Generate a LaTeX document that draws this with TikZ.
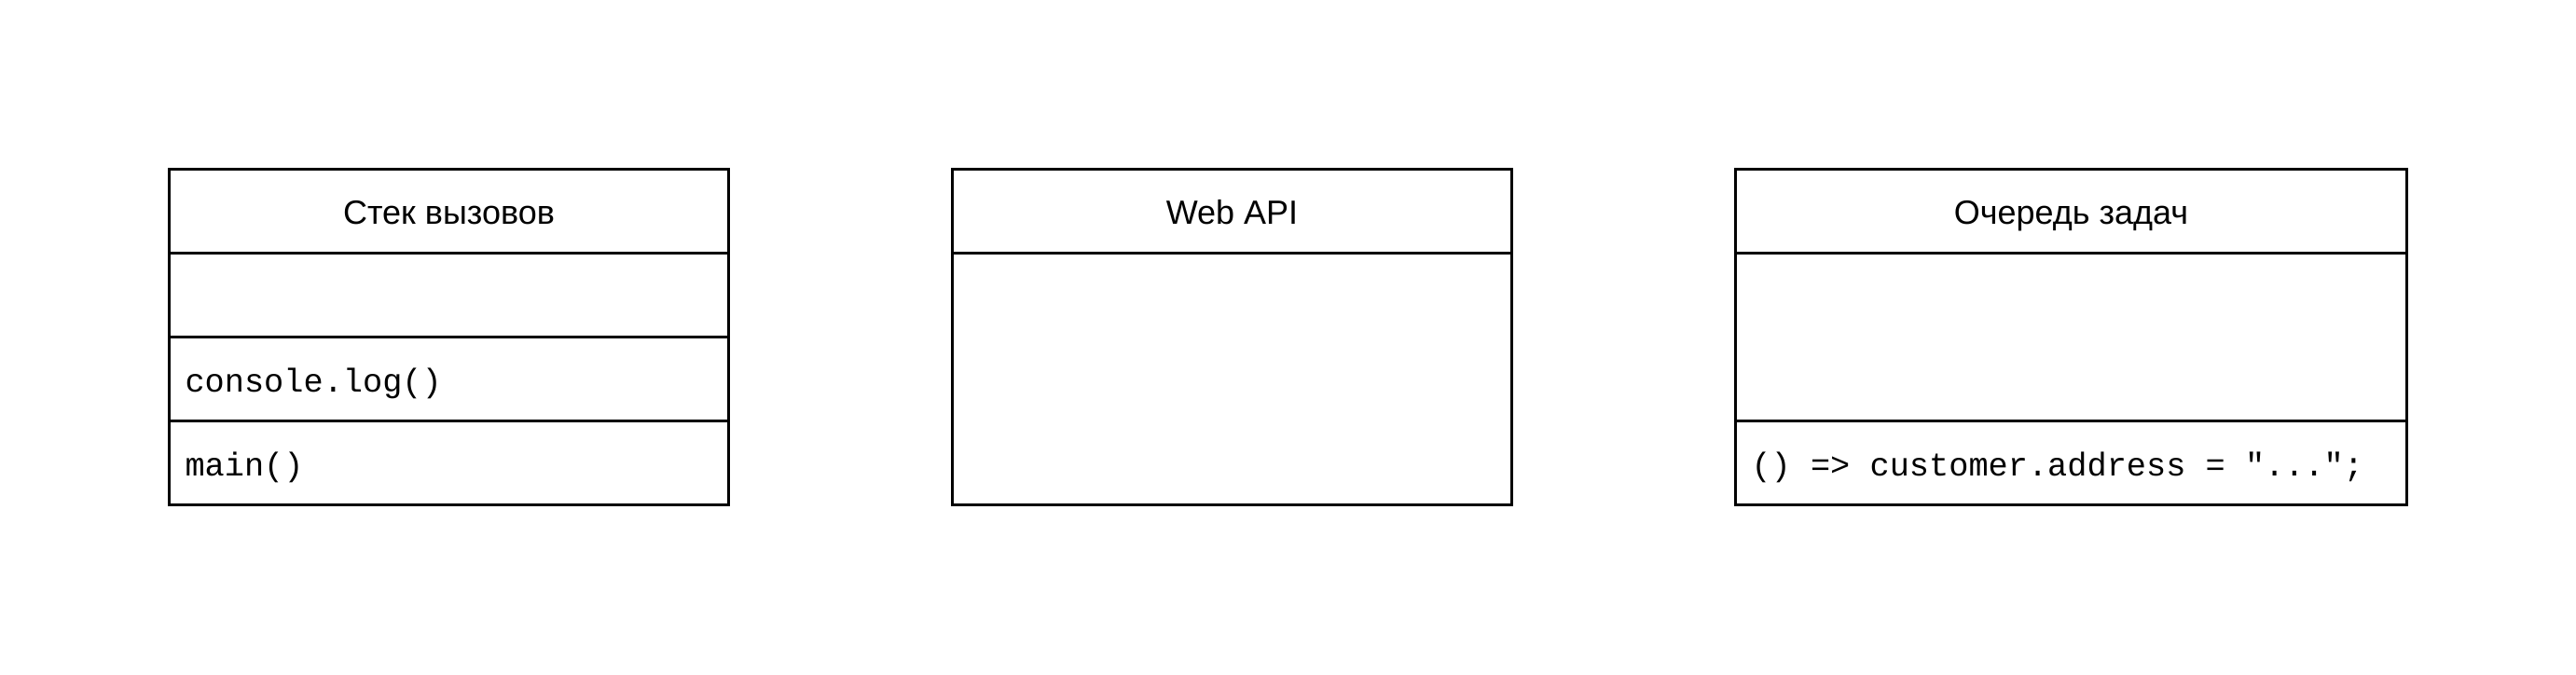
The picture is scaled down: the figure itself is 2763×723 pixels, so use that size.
\documentclass[tikz,border=0pt]{standalone}
\usepackage{fontspec}
\setmainfont{Liberation Sans}
\newfontfamily\codefont{Liberation Mono}
\protected\def\codestyle{\codefont\fontsize{35.3}{42}\selectfont}
\newcommand\sps{\hspace*{0.6em}}
\begin{document}
\begin{tikzpicture}[x=1pt,y=-1pt,
  cell/.style={draw=black, line width=3pt, rectangle, inner sep=0pt, outer sep=0pt, anchor=north west, minimum height=90pt},
  head/.style={cell, font=\fontsize{36}{43}\selectfont, text height=27.2pt, text depth=0pt},
  row/.style={cell, font=\codestyle, align=left, inner xsep=17pt, text height=28.4pt, text depth=0pt},
]
\useasboundingbox (0,0) rectangle (2763,723);
% Call stack
\node[head, minimum width=600pt] (s0) at (181.5,181.5) {Стек вызовов};
\node[row, text width=566pt] (s1) at (181.5,271.5) {};
\node[row, text width=566pt] (s2) at (181.5,361.5) {console.log()};
\node[row, text width=566pt] (s3) at (181.5,451.5) {main()};
% Web API
\node[head, minimum width=600pt] (w0) at (1021.5,181.5) {Web API};
\node[cell, minimum width=600pt, minimum height=270pt] (w1) at (1021.5,271.5) {};
% Task queue
\node[head, minimum width=720pt] (q0) at (1861.5,181.5) {Очередь задач};
\node[cell, minimum width=720pt, minimum height=180pt] (q1) at (1861.5,271.5) {};
\node[row, text width=686pt] (q2) at (1861.5,451.5) {()\sps=>\sps customer.address\sps=\sps"...";};
\end{tikzpicture}
\end{document}
